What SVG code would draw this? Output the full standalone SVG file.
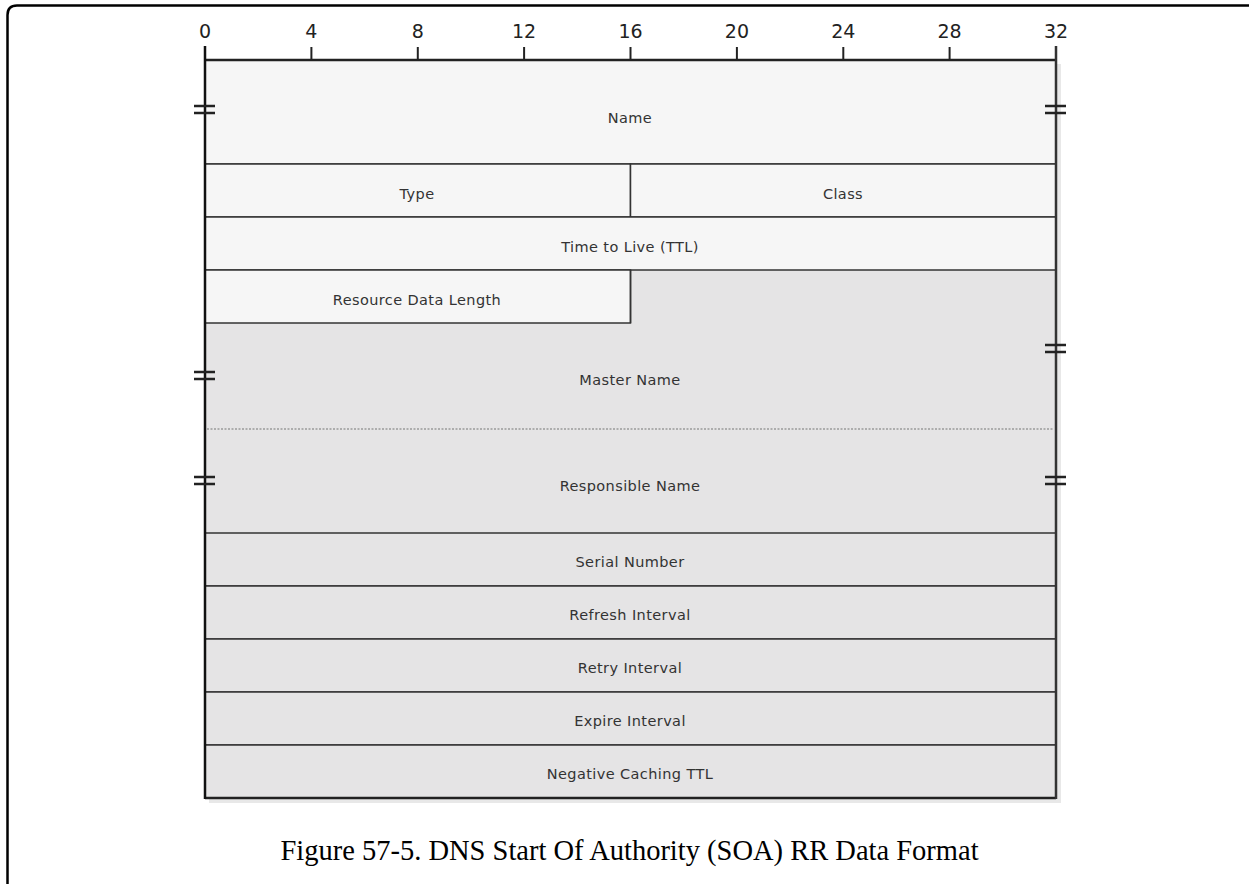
<svg xmlns="http://www.w3.org/2000/svg" width="1249" height="884" viewBox="0 0 1249 884">
<defs>
<style>
.lbl{font-family:"DejaVu Sans",sans-serif;font-size:14.5px;fill:#333;text-anchor:middle;letter-spacing:0.4px}
.num{font-family:"DejaVu Sans",sans-serif;font-size:19px;fill:#222;text-anchor:middle}
.cap{font-family:"Liberation Serif",serif;font-size:28.5px;fill:#000;text-anchor:middle}
.cell{stroke:#333;stroke-width:1.5}
.light{fill:#f6f6f6}
.dark{fill:#e5e4e5}
.tick{stroke:#222;stroke-width:2}
.brk{stroke:#222;stroke-width:2.5}
</style>
</defs>
<rect width="1249" height="884" fill="#fff"/>
<path d="M7.5,884 V15 Q7.5,5.5 17,5.5 H1249" fill="none" stroke="#000" stroke-width="2.5"/>
<rect x="209" y="64" width="852" height="739" fill="#d8d8d8" opacity="0.6"/>
<g id="ruler">
<line class="tick" x1="205" y1="46" x2="205" y2="60"/>
<line class="tick" x1="311.4" y1="47" x2="311.4" y2="60"/>
<line class="tick" x1="417.8" y1="47" x2="417.8" y2="60"/>
<line class="tick" x1="524.1" y1="47" x2="524.1" y2="60"/>
<line class="tick" x1="630.5" y1="47" x2="630.5" y2="60"/>
<line class="tick" x1="736.9" y1="47" x2="736.9" y2="60"/>
<line class="tick" x1="843.3" y1="47" x2="843.3" y2="60"/>
<line class="tick" x1="949.6" y1="47" x2="949.6" y2="60"/>
<line class="tick" x1="1056" y1="46" x2="1056" y2="60"/>
<text class="num" x="205" y="38">0</text>
<text class="num" x="311.4" y="38">4</text>
<text class="num" x="417.8" y="38">8</text>
<text class="num" x="524.1" y="38">12</text>
<text class="num" x="630.5" y="38">16</text>
<text class="num" x="736.9" y="38">20</text>
<text class="num" x="843.3" y="38">24</text>
<text class="num" x="949.6" y="38">28</text>
<text class="num" x="1056" y="38">32</text>
</g>
<g id="soa-area"><rect class="dark" x="205" y="270" width="851" height="528"/></g>
<g id="name"><rect class="cell light" x="205" y="60" width="851" height="104"/><text class="lbl" x="630" y="123">Name</text></g>
<g id="type"><rect class="cell light" x="205" y="164" width="425.5" height="53"/><text class="lbl" x="417" y="199">Type</text></g>
<g id="class"><rect class="cell light" x="630.5" y="164" width="425.5" height="53"/><text class="lbl" x="843" y="199">Class</text></g>
<g id="ttl"><rect class="cell light" x="205" y="217" width="851" height="53"/><text class="lbl" x="630" y="252">Time to Live (TTL)</text></g>
<g id="rdlength"><rect class="cell light" x="205" y="270" width="425.5" height="53"/><text class="lbl" x="417" y="305">Resource Data Length</text></g>
<g id="master-name"><text class="lbl" x="630" y="385">Master Name</text></g>
<line x1="207" y1="429" x2="1054" y2="429" stroke="#777" stroke-width="1.2" stroke-dasharray="2,1.5"/>
<g id="responsible-name"><text class="lbl" x="630" y="491">Responsible Name</text></g>
<g id="serial"><rect class="cell dark" x="205" y="533" width="851" height="53"/><text class="lbl" x="630" y="567">Serial Number</text></g>
<g id="refresh"><rect class="cell dark" x="205" y="586" width="851" height="53"/><text class="lbl" x="630" y="620">Refresh Interval</text></g>
<g id="retry"><rect class="cell dark" x="205" y="639" width="851" height="53"/><text class="lbl" x="630" y="673">Retry Interval</text></g>
<g id="expire"><rect class="cell dark" x="205" y="692" width="851" height="53"/><text class="lbl" x="630" y="726">Expire Interval</text></g>
<g id="negative-ttl"><rect class="cell dark" x="205" y="745" width="851" height="53"/><text class="lbl" x="630" y="779">Negative Caching TTL</text></g>
<g id="frame">
<line x1="630.5" y1="270" x2="630.5" y2="323" stroke="#333" stroke-width="1.5"/>
<line x1="205" y1="60" x2="1056" y2="60" stroke="#222" stroke-width="2.5"/>
<line x1="205" y1="798" x2="1056" y2="798" stroke="#222" stroke-width="2.5"/>
<line x1="205" y1="46" x2="205" y2="799" stroke="#111" stroke-width="2.5"/>
<line x1="1056" y1="46" x2="1056" y2="799" stroke="#333" stroke-width="2.5"/>
</g>
<g id="breaks">
<path class="brk" d="M194,106 H215 M194,113 H215"/>
<path class="brk" d="M1045,106 H1066 M1045,113 H1066"/>
<path class="brk" d="M194,372 H215 M194,379 H215"/>
<path class="brk" d="M1045,345 H1066 M1045,352 H1066"/>
<path class="brk" d="M194,477 H215 M194,484 H215"/>
<path class="brk" d="M1045,477 H1066 M1045,484 H1066"/>
</g>
<text class="cap" x="629.5" y="860">Figure 57-5. DNS Start Of Authority (SOA) RR Data Format</text>
</svg>
